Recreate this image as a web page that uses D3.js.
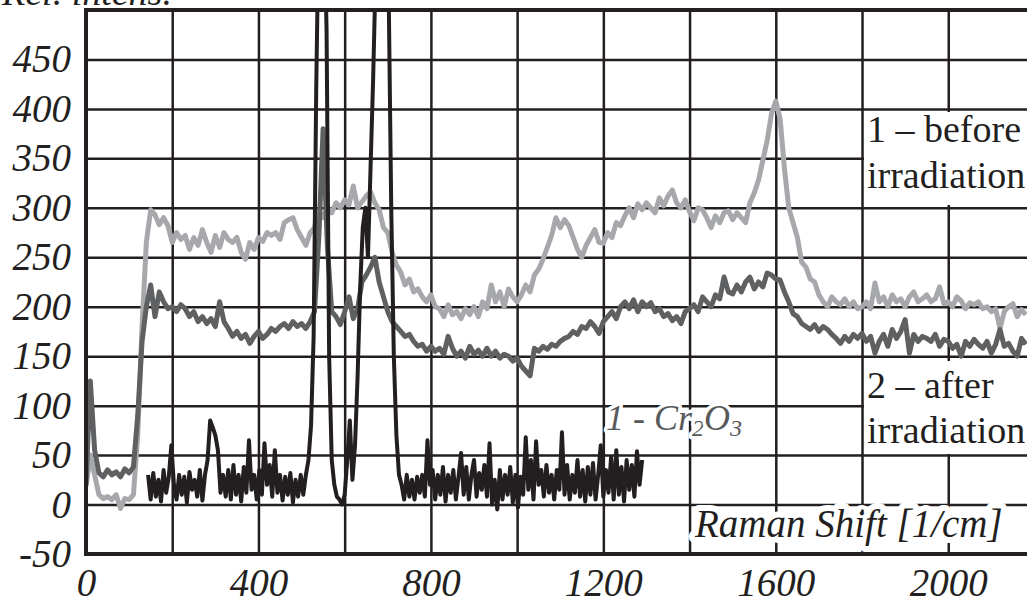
<!DOCTYPE html>
<html>
<head>
<meta charset="utf-8">
<title>Raman spectra</title>
</head>
<body style="margin:0">
<script src="https://cdn.jsdelivr.net/npm/d3@7"></script>
<script>
  // Raman shift step (1/cm) of the two irradiation spectra, starting at 0
  const shiftStep = 10;

  // 1 - before irradiation
  const beforeIrr = [
    18, 50, 30, 10, 6, 8, 5, 10, -4, 6,
    5, 10, 70, 180, 265, 298, 293, 283, 290, 282,
    265, 275, 268, 272, 258, 270, 262, 278, 265, 255,
    272, 260, 275, 268, 265, 270, 255, 248, 265, 258,
    270, 266, 275, 272, 275, 268, 285, 288, 290, 278,
    270, 262, 275, 280, 297, 290, 300, 295, 305, 300,
    308, 303, 322, 300, 306, 312, 316, 305, 298, 280,
    275, 255, 242, 235, 222, 228, 215, 218, 210, 205,
    212, 200, 198, 190, 202, 192, 195, 188, 198, 192,
    200, 190, 205, 198, 222, 205, 215, 200, 218, 210,
    205, 212, 222, 215, 232, 238, 248, 260, 272, 290,
    280, 288, 282, 270, 258, 250, 262, 270, 278, 265,
    264, 275, 270, 285, 282, 292, 300, 290, 304, 298,
    305, 300, 295, 310, 302, 312, 318, 305, 300, 308,
    296, 287, 300, 298, 290, 280, 292, 285, 295, 297,
    288, 295, 290, 285, 305, 315, 328, 348, 368, 395,
    408, 390, 340, 300, 285, 270, 245, 240, 228, 225,
    212, 205, 200, 210, 205, 202, 208, 200, 205, 198,
    200, 205, 198, 224, 205, 210, 200, 212, 205, 208,
    200, 210, 215, 205, 208, 212, 205, 208, 220, 203,
    205, 200, 210, 206, 198, 204, 202, 205, 198, 200,
    195, 198, 178, 195, 200, 203, 190, 197, 192
  ];

  // 2 - after irradiation
  const afterIrr = [
    20, 125, 55, 32, 28, 35, 30, 33, 28, 36,
    32, 38, 90, 165, 200, 222, 190, 215, 205, 198,
    200, 195, 202, 198, 190, 195, 185, 190, 183, 188,
    180, 205, 185, 178, 170, 175, 168, 172, 163, 170,
    175, 168, 172, 178, 175, 180, 183, 178, 185, 180,
    183, 178, 185, 195, 270, 380, 260, 195, 190, 182,
    195, 210, 188, 198, 225, 232, 240, 250, 225, 210,
    195, 185, 180, 175, 170, 172, 165, 160, 162, 155,
    160, 155, 158, 152, 170, 158, 150, 155, 148, 160,
    152, 156, 150, 158, 150, 155, 148, 152, 150, 145,
    148, 140, 135, 130, 158, 155, 160, 157, 162, 160,
    165, 168, 170, 175, 172, 180, 178, 185, 180, 173,
    185, 190, 195, 188, 200, 205, 198, 207, 195, 205,
    200, 204, 195, 198, 190, 193, 186, 190, 183, 195,
    198, 202, 195, 210, 205, 200, 212, 208, 230, 215,
    213, 222, 215, 225, 230, 218, 225, 220, 234, 232,
    228, 227, 215, 205, 193, 190, 183, 180, 177, 182,
    175, 180, 177, 172, 168, 163, 170, 165, 172, 168,
    173, 165, 170, 153, 165, 172, 160, 177, 168, 175,
    187, 153, 172, 165, 170, 168, 165, 172, 160, 167,
    165, 158, 162, 150, 165, 160, 167, 162, 158, 165,
    153, 162, 177, 160, 163, 155, 150, 168, 162
  ];

  // 1 - Cr2O3 reference spectrum
  const cr2o3Start = 144, cr2o3Step = 6;
  const cr2o3 = [
    30, 5, 32, 8, 25, 3, 35, 12, 28, 60,
    20, 5, 30, 10, 28, 2, 33, 15, 25, 8,
    35, 4, 30, 45, 85, 78, 70, 55, 12, 30,
    8, 35, 5, 40, 10, 30, 3, 38, 12, 65,
    15, 30, 5, 35, 10, 62, 20, 40, 8, 55,
    12, 30, 4, 28, 10, 32, 2, 25, 8, 30,
    10, 30, 45, 80, 170, 420, 600, 620, 600, 480,
    150, 45, 20, 8, 5, 0, 10, 45, 85, 25,
    60, 130, 220, 280, 300, 250, 340, 430, 540, 620,
    650, 650, 620, 520, 300, 150, 70, 30, 20, 5,
    30, 8, 25, 5, 28, 12, 30, 8, 65, 20,
    35, 5, 30, 10, 38, 3, 30, 12, 35, 5,
    28, 52, 10, 38, 5, 30, 45, 8, 32, 15,
    40, 8, 62, 0, 25, -5, 35, 5, 30, 10,
    38, 2, 30, -3, 28, 10, 68, 15, 45, 5,
    64, 20, 35, 8, 40, 12, 30, 5, 35, 15,
    73, 10, 40, 5, 30, 12, 45, 8, 35, 3,
    38, 10, 42, 5, 30, 60, 8, 35, 12, 48,
    5, 55, 10, 38, 3, 45, 15, 40, 8, 54,
    20, 45
  ];

  const yTicks = [-50, 0, 50, 100, 150, 200, 250, 300, 350, 400, 450];
  const xTicks = [0, 400, 800, 1200, 1600, 2000];
  const xGrid = [200, 400, 600, 800, 1000, 1200, 1400, 1600, 1800, 2000];
  const yGrid = [0, 50, 100, 150, 200, 250, 300, 350, 400, 450];

  const width = 1027, height = 601;
  const ink = '#231f20';

  let svg = d3.select('body').append('svg')
    .attr('width', width)
    .attr('height', height);

  let x = d3.scaleLinear().domain([0, 2185]).range([86, 1028]);
  let y = d3.scaleLinear().domain([-50, 500]).range([554, 10]);

  // grid lines
  svg.append('g')
    .attr('transform', `translate(0,${y(-50)})`)
    .call(d3.axisBottom(x).tickValues(xGrid).tickSize(y(500) - y(-50)).tickFormat(''))
    .call(g => g.select('.domain').remove())
    .call(g => g.selectAll('line').attr('stroke', ink).attr('stroke-width', 2.5));

  svg.append('g')
    .attr('transform', `translate(${x(0)},0)`)
    .call(d3.axisLeft(y).tickValues(yGrid).tickSize(x(0) - width).tickFormat(''))
    .call(g => g.select('.domain').remove())
    .call(g => g.selectAll('line').attr('stroke', ink).attr('stroke-width', 2.5));

  // white boxes behind the legend texts
  svg.append('rect').attr('x', 864).attr('y', 112).attr('width', 170).attr('height', 93).attr('fill', 'white');
  svg.append('rect').attr('x', 864).attr('y', 361).attr('width', 170).attr('height', 93).attr('fill', 'white');

  svg.append('clipPath').attr('id', 'plot-clip')
    .append('rect').attr('x', x(0)).attr('y', y(500)).attr('width', width - x(0)).attr('height', y(-50) - y(500));

  let line = d3.line()
    .x(d => x(d[0]))
    .y(d => y(d[1]));

  let series = [
    { values: beforeIrr.map((v, i) => [i * shiftStep, v]), color: '#a6a8ab', width: 5 },
    { values: afterIrr.map((v, i) => [i * shiftStep, v]), color: '#5f6062', width: 5 },
    { values: cr2o3.map((v, i) => [cr2o3Start + i * cr2o3Step, v]), color: ink, width: 4 }
  ];

  svg.append('g').attr('clip-path', 'url(#plot-clip)')
    .selectAll('path')
    .data(series)
    .enter().append('path')
      .attr('d', d => line(d.values))
      .attr('fill', 'none')
      .attr('stroke', d => d.color)
      .attr('stroke-width', d => d.width)
      .attr('stroke-linejoin', 'round');

  // frame
  svg.append('path')
    .attr('d', `M${width},${y(500)}H${x(0)}V${y(-50)}H${width}`)
    .attr('fill', 'none').attr('stroke', ink).attr('stroke-width', 4);

  // tick labels
  let yAxis = svg.append('g')
    .attr('transform', `translate(${x(0)},0)`)
    .call(d3.axisLeft(y).tickValues(yTicks).tickSize(0).tickPadding(15).tickFormat(d => String(d)))
    .call(g => g.select('.domain').remove());

  let xAxis = svg.append('g')
    .attr('transform', `translate(0,${y(-50)})`)
    .call(d3.axisBottom(x).tickValues(xTicks).tickSize(0).tickPadding(14).tickFormat(d => String(d)))
    .call(g => g.select('.domain').remove());

  [yAxis, xAxis].forEach(g => g
    .attr('font-family', 'Liberation Serif')
    .attr('font-size', 39)
    .attr('font-style', 'italic')
    .selectAll('text').attr('fill', ink));

  // axis titles
  svg.append('text')
    .attr('x', 2).attr('y', 5)
    .attr('fill', ink)
    .attr('font-family', 'Liberation Serif')
    .attr('font-size', 38).attr('font-style', 'italic')
    .text('Rel. intens.');

  svg.append('text')
    .attr('x', 695).attr('y', 537)
    .attr('fill', ink)
    .attr('stroke', 'white').attr('stroke-width', 12)
    .attr('stroke-linejoin', 'round').attr('paint-order', 'stroke')
    .attr('font-family', 'Liberation Serif')
    .attr('font-size', 39).attr('font-style', 'italic')
    .text('Raman Shift [1/cm]');

  // series labels
  let crLabel = svg.append('text')
    .attr('x', 606).attr('y', 430)
    .attr('fill', '#58595b')
    .attr('stroke', 'white').attr('stroke-width', 7)
    .attr('stroke-linejoin', 'round').attr('paint-order', 'stroke')
    .attr('font-family', 'Liberation Serif')
    .attr('font-size', 36).attr('font-style', 'italic');
  crLabel.append('tspan').text('1 - Cr');
  crLabel.append('tspan').attr('dy', 6).attr('font-size', 24).text('2');
  crLabel.append('tspan').attr('dy', -6).text('O');
  crLabel.append('tspan').attr('dy', 6).attr('font-size', 24).text('3');

  let legendLines = [
    { text: '1 \u2013 before', y: 142 },
    { text: 'irradiation', y: 188 },
    { text: '2 \u2013 after', y: 398 },
    { text: 'irradiation', y: 443 }
  ];
  svg.selectAll('.legend')
    .data(legendLines)
    .enter().append('text')
      .attr('class', 'legend')
      .attr('x', 867)
      .attr('y', d => d.y)
      .attr('fill', ink)
      .attr('font-family', 'Liberation Serif')
      .attr('font-size', 38)
      .text(d => d.text);
</script>
</body>
</html>
